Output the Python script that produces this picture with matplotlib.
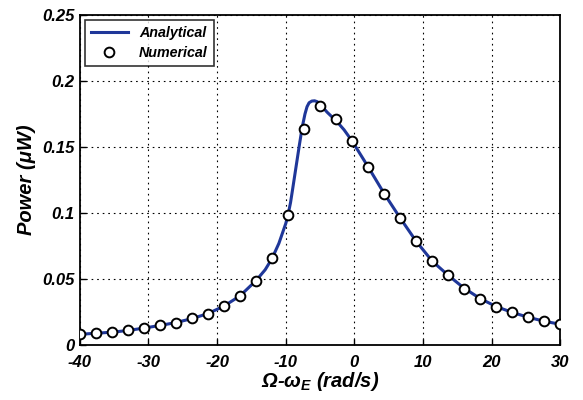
import matplotlib
matplotlib.use("Agg")
import matplotlib.pyplot as plt

plt.rcParams['font.family'] = ['Liberation Sans', 'DejaVu Sans']
plt.rcParams['font.weight'] = 'bold'
plt.rcParams['font.style'] = 'italic'
plt.rcParams['axes.labelweight'] = 'bold'
plt.rcParams['axes.unicode_minus'] = False
plt.rcParams['mathtext.fontset'] = 'custom'
plt.rcParams['mathtext.rm'] = 'Liberation Sans:bold:italic'
plt.rcParams['mathtext.it'] = 'Liberation Sans:bold:italic'
plt.rcParams['mathtext.bf'] = 'Liberation Sans:bold:italic'

# numerical points
num_x = [-40, -37.67, -35.33, -33, -30.67, -28.33, -26, -23.67, -21.33, -19,
         -16.67, -14.33, -12, -9.67, -7.33, -5, -2.67, -0.33, 2, 4.33,
         6.67, 9, 11.33, 13.67, 16, 18.33, 20.67, 23, 25.33, 27.67, 30]
num_y = [0.0081, 0.0089, 0.0096, 0.0111, 0.0129, 0.0149, 0.0169, 0.0202, 0.0237, 0.0298,
         0.0374, 0.0487, 0.0659, 0.0982, 0.1636, 0.1811, 0.1712, 0.1545, 0.1348, 0.1146,
         0.0962, 0.0787, 0.0636, 0.0527, 0.0427, 0.0351, 0.0290, 0.0248, 0.0210, 0.0179, 0.0157]

# analytical curve
ana_x = [-40, -37.67, -35.33, -33, -30.67, -28.33, -26, -23.67, -21.33, -19,
         -16.67, -14.33, -13, -12, -11, -10.5, -10, -9.67, -9.3, -9.0, -8.5, -8.0,
         -7.6, -7.2, -6.9, -6.6, -6.2, -5.8, -5.4, -5.0, -4.5, -4.0, -3.3, -2.67,
         -1.5, -0.33, 2, 4.33, 6.67, 9, 11.33, 13.67, 16, 18.33, 20.67, 23,
         25.33, 27.67, 30]
ana_y = [0.0081, 0.0089, 0.0097, 0.0110, 0.0128, 0.0148, 0.0170, 0.0200, 0.0238, 0.0295,
         0.0372, 0.0488, 0.0570, 0.0655, 0.0770, 0.0845, 0.0920, 0.0985, 0.1080, 0.1180, 0.1350, 0.1520,
         0.1650, 0.1750, 0.1805, 0.1835, 0.1848, 0.1850, 0.1843, 0.1825, 0.1795, 0.1765, 0.1730, 0.1700,
         0.1630, 0.1545, 0.1350, 0.1148, 0.0962, 0.0786, 0.0636, 0.0528, 0.0430, 0.0352, 0.0291, 0.0247,
         0.0210, 0.0180, 0.0157]

fig = plt.figure(figsize=(5.83, 4.0), dpi=100)
ax = fig.add_axes([0.137, 0.1375, 0.824, 0.825])

ax.plot(ana_x, ana_y, color='#1f3799', linewidth=2.2, label='Analytical', zorder=3)
ax.plot(num_x, num_y, linestyle='none', marker='o', markersize=7,
        markerfacecolor='white', markeredgecolor='black', markeredgewidth=1.4,
        label='Numerical', zorder=4)

ax.set_xlim(-40, 30)
ax.set_ylim(0, 0.25)
ax.set_xticks([-40, -30, -20, -10, 0, 10, 20, 30])
ax.set_yticks([0, 0.05, 0.1, 0.15, 0.2, 0.25])
ax.set_yticklabels(['0', '0.05', '0.1', '0.15', '0.2', '0.25'])
ax.grid(True, color='black', linestyle=(0, (1.5, 3.5)), linewidth=0.8)
ax.tick_params(direction='in', labelsize=12, length=4, width=1)
ax.tick_params(axis='x', pad=7)
ax.tick_params(axis='y', pad=4)
for s in ax.spines.values():
    s.set_linewidth(1.3)

ax.set_xlabel(r'Ω-ω$_{E}$ (rad/s)', fontsize=14.5, labelpad=0)
ax.set_ylabel('Power (μW)', fontsize=14.5, labelpad=4)

leg = ax.legend(loc='upper left', fontsize=10.3, frameon=True, fancybox=False,
                edgecolor='black', borderpad=0.4, handlelength=2.6,
                borderaxespad=0.35, labelspacing=0.45)
leg.get_frame().set_linewidth(1.2)

fig.savefig('out.png', dpi=100)
